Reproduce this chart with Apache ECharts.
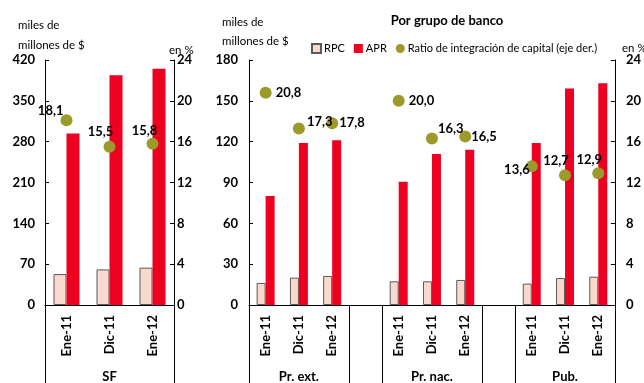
<!DOCTYPE html>
<html>
<head>
<meta charset="utf-8">
<script src="https://cdn.jsdelivr.net/npm/echarts@6/dist/echarts.min.js"></script>
<style>
html,body{margin:0;padding:0;background:#fff;}
#c{width:644px;height:383px;}
</style>
</head>
<body>
<div id="c"></div>
<script>
// ---- Data ----
const periods = ['Ene-11', 'Dic-11', 'Ene-12'];
const groupNames = ['Pr. ext.', 'Pr. nac.', 'Pub.'];
const panelSF = 'SF';

const rpcSF = [53, 61, 64];
const aprSF = [294, 394, 405];
const ratioSF = [18.1, 15.5, 15.8];

const rpcPrExt = [16.2, 20.1, 21.3];
const aprPrExt = [80, 119, 121];
const ratioPrExt = [20.8, 17.3, 17.8];

const rpcPrNac = [17.4, 17.4, 18.4];
const aprPrNac = [90.5, 111, 114];
const ratioPrNac = [20.0, 16.3, 16.5];

const rpcPub = [15.7, 19.8, 20.8];
const aprPub = [119, 159, 163];
const ratioPub = [13.6, 12.7, 12.9];

const leftTicksSF = [0, 70, 140, 210, 280, 350, 420];
const leftTicksGrp = [0, 30, 60, 90, 120, 150, 180];
const rightTicks = [0, 4, 8, 12, 16, 20, 24];

// ---- Build combined category axis for group panel ----
function joinGroups(a, b, c) { return [...a, null, ...b, null, ...c]; }
const grpCats = joinGroups(periods, periods, periods).map(v => v === null ? '' : v);
const grpLabels = grpCats.map((_, i) => (i % 4 === 1 ? groupNames[(i - 1) / 4] : ''));
const rpcGrp = joinGroups(rpcPrExt, rpcPrNac, rpcPub);
const aprGrp = joinGroups(aprPrExt, aprPrNac, aprPub);
const ratioGrp = joinGroups(ratioPrExt, ratioPrNac, ratioPub);

// ---- Styles ----
const FONT = 'Lato';
const RED = '#ee0020';
const PINK = '#f9d8cd';
const OLIVE = '#9c9a2a';
const RATIO_NAME = 'Ratio de integración de capital (eje der.)';
const fmt = v => v.toFixed(1).replace('.', ',');

// label placement per point (style only)
const sfLabelStyle = [
  {position: 'left', offset: [7, -9]},
  {position: 'top', offset: [-9, 2]},
  {position: 'top', offset: [-8, 4]}
];
const grpLabelStyle = [
  {position: 'right', offset: [0, 0]},
  {position: 'right', offset: [-2, -7]},
  {position: 'right', offset: [-3, 0]},
  null,
  {position: 'right', offset: [0, 0]},
  {position: 'right', offset: [-4, -10]},
  {position: 'right', offset: [-4, 0]},
  null,
  {position: 'left', offset: [8, 4]},
  {position: 'top', offset: [-9, 2]},
  {position: 'top', offset: [-9, 3]}
];

function scatterData(vals, styles) {
  return vals.map((v, i) => {
    if (v === null) return null;
    const s = styles[i];
    return {value: v, label: {position: s.position, offset: s.offset}};
  });
}

const labelBase = {show: true, formatter: p => fmt(p.value), color: '#000', fontFamily: FONT, fontWeight: 'bold', fontSize: 13, distance: 4};

const yLabel = {color: '#000', fontFamily: FONT, fontWeight: 'bold', fontSize: 13};
function yAxis(gridIndex, pos, ticks, margin) {
  return {
    type: 'value', gridIndex: gridIndex, position: pos,
    min: ticks[0], max: ticks[ticks.length - 1], interval: ticks[1] - ticks[0],
    axisLine: {show: true, lineStyle: {color: '#000', width: 1}},
    axisTick: {show: true, inside: true, length: 4, lineStyle: {color: '#000'}},
    axisLabel: Object.assign({margin: margin}, yLabel),
    splitLine: {show: false}
  };
}

const sepTicksGrp = [0, 3, 4, 7, 8];

const option = {
  animation: false,
  backgroundColor: '#fff',
  textStyle: {fontFamily: FONT},
  title: [
    {text: 'Por grupo de banco', left: 442, top: 9, textAlign: 'center', textStyle: {fontFamily: FONT, fontWeight: 'bold', fontSize: 13, color: '#000'}},
    {text: 'miles de', left: 13, top: 14, textStyle: {fontFamily: FONT, fontWeight: 'normal', fontSize: 11.5, color: '#000'}},
    {text: 'millones de $', left: 13, top: 34, textStyle: {fontFamily: FONT, fontWeight: 'normal', fontSize: 11.5, color: '#000'}},
    {text: 'en %', left: 164, top: 39, textStyle: {fontFamily: FONT, fontWeight: 'normal', fontSize: 11.5, color: '#000'}},
    {text: 'miles de', left: 217, top: 11, textStyle: {fontFamily: FONT, fontWeight: 'normal', fontSize: 11.5, color: '#000'}},
    {text: 'millones de $', left: 217, top: 30, textStyle: {fontFamily: FONT, fontWeight: 'normal', fontSize: 11.5, color: '#000'}},
    {text: 'en %', left: 617, top: 37, textStyle: {fontFamily: FONT, fontWeight: 'normal', fontSize: 11.5, color: '#000'}}
  ],
  legend: {
    left: 306, top: 38, itemWidth: 9, itemHeight: 9, itemGap: 9,
    textStyle: {fontFamily: FONT, fontSize: 11, color: '#000', padding: [0, 0, 0, -2]},
    data: [
      {name: 'RPC', icon: 'rect'},
      {name: 'APR', icon: 'rect'},
      {name: RATIO_NAME, icon: 'circle'}
    ]
  },
  grid: [
    {left: 45, width: 129, top: 60, height: 248},
    {left: 249, width: 366, top: 60, height: 248}
  ],
  xAxis: [
    {
      type: 'category', gridIndex: 0, data: periods,
      axisLine: {lineStyle: {color: '#000', width: 1}},
      axisTick: {show: true, length: 80, interval: (i) => i === 0, lineStyle: {color: '#000'}},
      axisLabel: {interval: 0, rotate: 90, margin: 10, color: '#000', fontFamily: FONT, fontWeight: 'bold', fontSize: 13}
    },
    {
      type: 'category', gridIndex: 1, data: grpCats,
      axisLine: {lineStyle: {color: '#000', width: 1}},
      axisTick: {show: true, length: 80, interval: (i) => sepTicksGrp.indexOf(i) >= 0, lineStyle: {color: '#000'}},
      axisLabel: {interval: 0, rotate: 90, margin: 10, color: '#000', fontFamily: FONT, fontWeight: 'bold', fontSize: 13}
    },
    {
      type: 'category', gridIndex: 0, data: [panelSF], position: 'bottom', offset: 60,
      axisLine: {show: false}, axisTick: {show: false},
      axisLabel: {interval: 0, margin: 5, color: '#000', fontFamily: FONT, fontWeight: 'bold', fontSize: 13}
    },
    {
      type: 'category', gridIndex: 1, data: grpLabels, position: 'bottom', offset: 60,
      axisLine: {show: false}, axisTick: {show: false},
      axisLabel: {interval: 0, margin: 5, color: '#000', fontFamily: FONT, fontWeight: 'bold', fontSize: 13}
    }
  ],
  yAxis: [
    yAxis(0, 'left', leftTicksSF, 10),
    yAxis(0, 'right', rightTicks, 3),
    yAxis(1, 'left', leftTicksGrp, 11),
    yAxis(1, 'right', rightTicks, 11)
  ],
  series: [
    {name: 'RPC', type: 'bar', xAxisIndex: 0, yAxisIndex: 0, data: rpcSF, barWidth: 13, barGap: '0%',
      itemStyle: {color: PINK, borderColor: '#5a5a5a', borderWidth: 1}},
    {name: 'APR', type: 'bar', xAxisIndex: 0, yAxisIndex: 0, data: aprSF, barWidth: 13, barGap: '0%',
      itemStyle: {color: RED}},
    {name: RATIO_NAME, type: 'scatter', xAxisIndex: 0, yAxisIndex: 1, data: scatterData(ratioSF, sfLabelStyle),
      symbolSize: 12, itemStyle: {color: OLIVE, opacity: 1}, label: labelBase, z: 5},
    {name: 'RPC', type: 'bar', xAxisIndex: 1, yAxisIndex: 2, data: rpcGrp, barWidth: 9, barGap: '0%',
      itemStyle: {color: PINK, borderColor: '#5a5a5a', borderWidth: 1}},
    {name: 'APR', type: 'bar', xAxisIndex: 1, yAxisIndex: 2, data: aprGrp, barWidth: 9, barGap: '0%',
      itemStyle: {color: RED}},
    {name: RATIO_NAME, type: 'scatter', xAxisIndex: 1, yAxisIndex: 3, data: scatterData(ratioGrp, grpLabelStyle),
      symbolSize: 12, itemStyle: {color: OLIVE, opacity: 1}, label: labelBase, z: 5}
  ]
};

const chart = echarts.init(document.getElementById('c'), null, {renderer: 'canvas'});
chart.setOption(option);
</script>
</body>
</html>
